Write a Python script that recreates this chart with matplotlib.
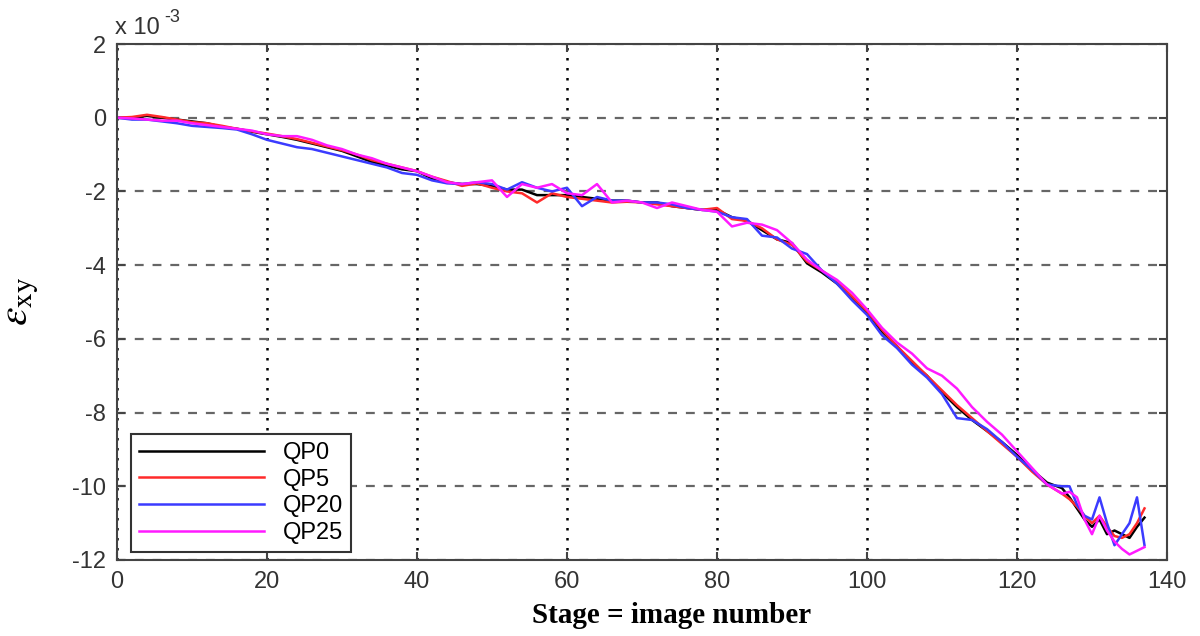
import matplotlib.pyplot as plt

plt.rcParams["mathtext.fontset"] = "stix"
plt.rcParams["axes.unicode_minus"] = False

# stage numbers (every 2 stages, then every stage near the end)
stages = list(range(0, 127, 2)) + list(range(127, 138))

# shear strain e_xy (x 1e-3)
qp0 = [0, 0.0, 0.05, 0.0, -0.05, -0.1, -0.15, -0.25, -0.3, -0.38,
       -0.45, -0.52, -0.6, -0.7, -0.8, -0.9, -1.05, -1.2, -1.3, -1.4,
       -1.45, -1.65, -1.75, -1.8, -1.8, -1.85, -1.95, -1.95, -2.1, -2.1,
       -2.1, -2.15, -2.2, -2.25, -2.25, -2.3, -2.3, -2.4, -2.45, -2.5,
       -2.5, -2.7, -2.8, -3.05, -3.3, -3.4, -3.95, -4.2, -4.5, -4.9,
       -5.3, -5.8, -6.2, -6.65, -7.0, -7.45, -7.85, -8.2, -8.5, -8.8,
       -9.15, -9.55, -9.9, -10.05,
       -10.3, -10.6, -10.9, -11.1, -10.9, -11.3, -11.2, -11.3, -11.4, -11.1, -10.85]
qp5 = [0, 0.02, 0.08, 0.02, -0.05, -0.12, -0.15, -0.22, -0.3, -0.37,
       -0.43, -0.5, -0.58, -0.68, -0.78, -0.88, -1.0, -1.15, -1.25, -1.35,
       -1.45, -1.6, -1.72, -1.85, -1.78, -1.9, -2.0, -2.05, -2.3, -2.05,
       -2.15, -2.2, -2.25, -2.3, -2.28, -2.3, -2.35, -2.4, -2.45, -2.5,
       -2.45, -2.75, -2.8, -3.0, -3.3, -3.45, -3.9, -4.15, -4.45, -4.85,
       -5.25, -5.75, -6.2, -6.6, -7.0, -7.4, -7.8, -8.15, -8.5, -8.85,
       -9.2, -9.6, -9.95, -10.2,
       -10.35, -10.55, -10.8, -11.0, -10.8, -11.1, -11.35, -11.4, -11.3, -11.0, -10.6]
qp20 = [0, -0.05, -0.05, -0.1, -0.15, -0.22, -0.25, -0.28, -0.32, -0.45,
        -0.6, -0.7, -0.8, -0.85, -0.95, -1.05, -1.15, -1.25, -1.35, -1.5,
        -1.55, -1.7, -1.78, -1.8, -1.75, -1.8, -1.95, -1.75, -1.9, -2.0,
        -1.9, -2.4, -2.15, -2.25, -2.25, -2.3, -2.3, -2.35, -2.45, -2.5,
        -2.55, -2.7, -2.75, -3.2, -3.25, -3.55, -3.7, -4.15, -4.5, -4.95,
        -5.35, -5.9, -6.25, -6.7, -7.05, -7.5, -8.15, -8.2, -8.45, -8.8,
        -9.2, -9.55, -9.95, -10.0,
        -10.0, -10.5, -10.8, -10.9, -10.3, -11.0, -11.6, -11.3, -11.0, -10.3, -11.6]
qp25 = [0, -0.02, -0.05, -0.08, -0.08, -0.15, -0.2, -0.25, -0.3, -0.35,
        -0.45, -0.5, -0.5, -0.6, -0.75, -0.85, -1.0, -1.1, -1.25, -1.35,
        -1.45, -1.6, -1.75, -1.8, -1.75, -1.7, -2.15, -1.8, -1.9, -1.8,
        -2.05, -2.1, -1.8, -2.3, -2.25, -2.3, -2.45, -2.3, -2.4, -2.5,
        -2.55, -2.95, -2.85, -2.9, -3.05, -3.4, -3.85, -4.15, -4.4, -4.75,
        -5.2, -5.7, -6.1, -6.4, -6.8, -7.0, -7.35, -7.85, -8.25, -8.6,
        -9.05, -9.5, -9.95, -10.2,
        -10.15, -10.3, -10.9, -11.3, -10.8, -11.2, -11.5, -11.7, -11.85, -11.75, -11.65]

series = [("QP0", qp0, "black"), ("QP5", qp5, "#ff2a2a"),
          ("QP20", qp20, "#3b3bff"), ("QP25", qp25, "#ff1aff")]

fig = plt.figure(figsize=(12, 6.36), dpi=100)
ax = fig.add_axes([0.0975, 0.1195, 0.875, 0.8113])

for name, vals, col in series:
    ax.plot(stages, vals, color=col, lw=1.8, label=name)

ax.set_xlim(0, 140)
ax.set_ylim(-12, 2)
ax.set_xticks(range(0, 141, 20))
ax.set_yticks(range(-12, 3, 2))

ax.xaxis.grid(True, ls=(0, (1, 3)), color="black", lw=1.8)
ax.yaxis.grid(True, ls=(0, (4, 4)), color="#666666", lw=1.6)
ax.set_axisbelow(True)

ax.tick_params(direction="in", length=6, width=1.5, top=True, right=True,
               labelsize=17, labelcolor="#333333", color="#444444", pad=8)
for lab in ax.get_xticklabels() + ax.get_yticklabels():
    lab.set_family("Liberation Sans")
for sp in ax.spines.values():
    sp.set_color("#444444")
    sp.set_linewidth(1.5)

# MATLAB style exponent label
fig.text(0.096, 0.946, "x 10", fontsize=17, color="#333333", family="Liberation Sans")
fig.text(0.137, 0.966, "-3", fontsize=13, color="#333333", family="Liberation Sans")

ax.set_ylabel(r"$\varepsilon_{\mathrm{xy}}$", fontsize=30, labelpad=22)
fig.text(0.56, 0.02, "Stage = image number", fontsize=21, fontweight="bold",
         family="Liberation Serif", ha="center")

leg = ax.legend(loc="lower left", bbox_to_anchor=(0.013, 0.015), borderaxespad=0,
                fancybox=False, edgecolor="#333333", framealpha=1,
                prop={"family": "Liberation Sans", "size": 17},
                handlelength=5.3, handletextpad=0.8, labelspacing=0.2,
                borderpad=0.35)
leg.get_frame().set_linewidth(1.5)

fig.savefig("out.png", dpi=100)
